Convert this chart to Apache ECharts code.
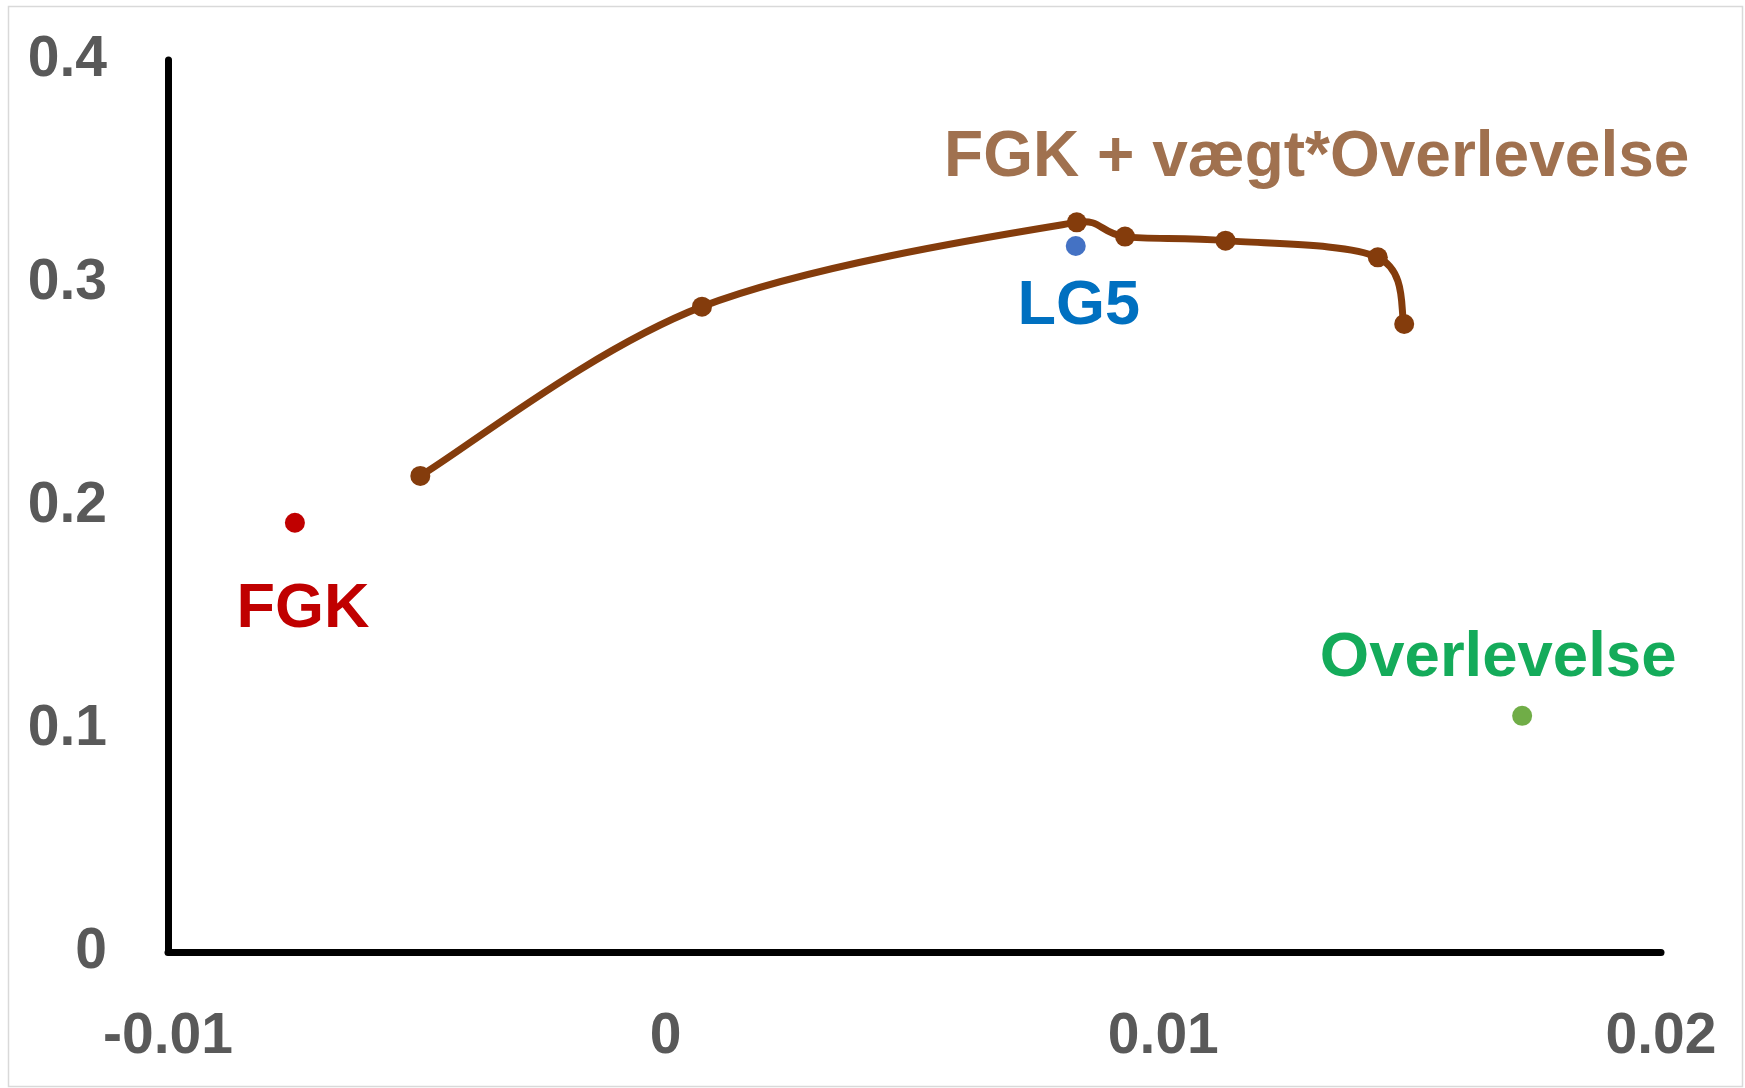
<!DOCTYPE html>
<html>
<head>
<meta charset="utf-8">
<script src="https://cdn.jsdelivr.net/npm/echarts@6/dist/echarts.min.js"></script>
<style>
html,body{margin:0;padding:0;background:#fff;}
#c{width:1745px;height:1088px;}
</style>
</head>
<body>
<div id="c"></div>
<script>
// ---- data ----
const curveX = [-0.00493, 0.00073, 0.00826, 0.00923, 0.01125, 0.01431, 0.01484];
const curveY = [0.2135, 0.2894, 0.3272, 0.3208, 0.3190, 0.3115, 0.2816];
const curveName = 'FGK + vægt*Overlevelse';
const fgkPoint = [-0.00745, 0.1925];
const lg5Point = [0.00824, 0.3166];
const overPoint = [0.01721, 0.1059];
const pointNames = ['FGK', 'LG5', 'Overlevelse'];
const xTicks = { min: -0.01, max: 0.02, interval: 0.01 };
const yTicks = { min: 0, max: 0.4, interval: 0.1 };

const FONT = '"Liberation Sans", Arial, sans-serif';
const BROWN = '#843c0c';
const chart = echarts.init(document.getElementById('c'), null, { renderer: 'canvas' });

function lbl(color, size, dx, dy) {
  return {
    show: true, position: 'inside', offset: [dx, dy],
    color: color, fontSize: size, fontWeight: 'bold', fontFamily: FONT,
    align: 'center', verticalAlign: 'middle', opacity: 1
  };
}

const curvePairs = curveX.map((x, i) => [x, curveY[i]]);
const curveData = curvePairs.map((p, i) => {
  const item = { value: p };
  if (i === 2) {
    item.label = lbl('#a0714f', 64, 240, -64);
    item.label.formatter = curveName;
  }
  return item;
});

// Excel-like smoothed line: Catmull-Rom bezier segments in pixel space,
// control vectors capped relative to the segment length
function capVec(vx, vy, maxLen) {
  const L = Math.hypot(vx, vy);
  if (L > maxLen && L > 0) { const s = maxLen / L; return [vx * s, vy * s]; }
  return [vx, vy];
}
function renderSegment(params, api) {
  const i = params.dataIndex;
  const n = curvePairs.length;
  if (i >= n - 1) return null;
  const P = curvePairs.map(p => api.coord(p));
  const p0 = P[Math.max(i - 1, 0)], p1 = P[i], p2 = P[i + 1], p3 = P[Math.min(i + 2, n - 1)];
  const t = 1 / 6;
  const seg = Math.hypot(p2[0] - p1[0], p2[1] - p1[1]);
  const a = capVec((p2[0] - p0[0]) * t, (p2[1] - p0[1]) * t, seg * 0.5);
  const b = capVec((p3[0] - p1[0]) * t, (p3[1] - p1[1]) * t, seg * 0.5);
  return {
    type: 'bezierCurve',
    shape: {
      x1: p1[0], y1: p1[1], x2: p2[0], y2: p2[1],
      cpx1: p1[0] + a[0], cpy1: p1[1] + a[1],
      cpx2: p2[0] - b[0], cpy2: p2[1] - b[1]
    },
    style: { stroke: BROWN, lineWidth: 7, fill: null, lineCap: 'round' }
  };
}

const axisLabelStyle = { color: '#595959', fontSize: 57, fontWeight: 'bold', fontFamily: FONT };

chart.setOption({
  animation: false,
  backgroundColor: '#ffffff',
  graphic: [{
    type: 'rect', silent: true, z: -10,
    shape: { x: 8.5, y: 6.5, width: 1734, height: 1080 },
    style: { fill: 'none', stroke: '#d9d9d9', lineWidth: 1.5 }
  }],
  grid: { left: 168, right: 84, top: 60, bottom: 136, containLabel: false },
  xAxis: {
    type: 'value', min: xTicks.min, max: xTicks.max, interval: xTicks.interval,
    axisLine: { show: true, onZero: false, lineStyle: { color: '#000', width: 7 } },
    axisTick: { show: false }, splitLine: { show: false },
    axisLabel: Object.assign({ margin: 57 }, axisLabelStyle)
  },
  yAxis: {
    type: 'value', min: yTicks.min, max: yTicks.max, interval: yTicks.interval,
    axisLine: { show: true, onZero: false, lineStyle: { color: '#000', width: 7 } },
    axisTick: { show: false }, splitLine: { show: false },
    axisLabel: Object.assign({ margin: 61 }, axisLabelStyle)
  },
  series: [
    {
      type: 'custom', name: curveName + ' line', data: curvePairs,
      renderItem: renderSegment, z: 2, silent: true, clip: false
    },
    {
      type: 'scatter', name: curveName, data: curveData,
      symbol: 'circle', symbolSize: 20,
      itemStyle: { color: BROWN, opacity: 1 }, z: 3
    },
    {
      type: 'scatter', name: pointNames[0], symbolSize: 20,
      itemStyle: { color: '#c00000', opacity: 1 },
      label: Object.assign(lbl('#c00000', 63, 8, 87), { formatter: pointNames[0] }),
      data: [fgkPoint]
    },
    {
      type: 'scatter', name: pointNames[1], symbolSize: 20,
      itemStyle: { color: '#4472c4', opacity: 1 },
      label: Object.assign(lbl('#0070c0', 63, 3, 61), { formatter: pointNames[1] }),
      data: [lg5Point], z: 2
    },
    {
      type: 'scatter', name: pointNames[2], symbolSize: 20,
      itemStyle: { color: '#70ad47', opacity: 1 },
      label: Object.assign(lbl('#14ab5a', 63.5, -24, -57), { formatter: pointNames[2] }),
      data: [overPoint]
    }
  ]
});
</script>
</body>
</html>
